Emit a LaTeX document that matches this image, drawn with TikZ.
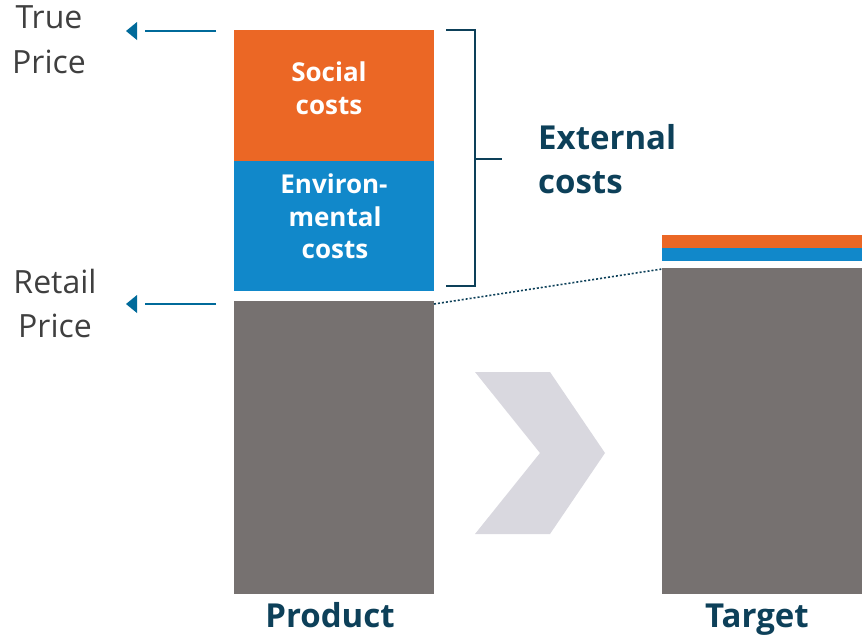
\documentclass[tikz,border=0pt]{standalone}
\usepackage{fontspec}
\setmainfont{Open Sans}
\definecolor{cOrange}{HTML}{EB6725}
\definecolor{cBlue}{HTML}{1188CA}
\definecolor{cGray}{HTML}{767170}
\definecolor{cChev}{HTML}{D9D8DF}
\definecolor{cTeal}{HTML}{0D4059}
\definecolor{cPtr}{HTML}{006A9A}
\definecolor{cLab}{HTML}{3F3F3F}
\begin{document}
\begin{tikzpicture}[x=1pt,y=-1pt,
  bar/.style={draw=none,inner sep=0pt,outer sep=0pt,anchor=north west,minimum width=200pt},
  intext/.style={anchor=base,text=white,font=\fontsize{26}{33}\selectfont\bfseries,inner sep=0pt},
  sidelab/.style={anchor=base,text=cLab,font=\fontsize{32}{44}\selectfont,inner sep=0pt},
  headlab/.style={text=cTeal,font=\fontsize{33}{44}\selectfont\bfseries,inner sep=0pt},
  footlab/.style={anchor=base,text=cTeal,font=\fontsize{33}{40}\selectfont\bfseries,inner sep=0pt},
  ptrline/.style={draw=cPtr,line width=1.5pt},
  ptrhead/.style={fill=cPtr,draw=none},
  brack/.style={draw=cTeal,line width=2pt},
  link/.style={draw=cTeal,line width=1.6pt,dash pattern=on 2pt off 2pt}]
\useasboundingbox (0,0) rectangle (863,635);
% product bar
\node[bar,fill=cOrange,minimum height=131pt] (soc) at (234,30) {};
\node[bar,fill=cBlue,minimum height=130pt] (env) at (234,161) {};
\node[bar,fill=cGray,minimum height=293pt] (prod) at (234,301) {};
% target bar
\node[bar,fill=cOrange,minimum height=13pt] (tsoc) at (662,235) {};
\node[bar,fill=cBlue,minimum height=13pt] (tenv) at (662,248) {};
\node[bar,fill=cGray,minimum height=326pt] (tgt) at (662,268) {};
% texts in bars
\node[intext] (s1) at (329,81) {Social};
\node[intext] (s2) at (329,114) {costs};
\node[intext] (e1) at (334,193) {Environ-};
\node[intext] (e2) at (335,226) {mental};
\node[intext] (e3) at (335,258) {costs};
% side labels
\node[sidelab] (tp1) at (49,28) {True};
\node[sidelab] (tp2) at (49,73) {Price};
\node[sidelab] (rp1) at (55,293) {Retail};
\node[sidelab] (rp2) at (55,337) {Price};
% pointers
\coordinate (tpa) at (216,31);
\coordinate (tpb) at (145,31);
\coordinate (tpt) at (126,31);
\draw[ptrline] (tpa) -- (tpb);
\fill[ptrhead] (tpt) -- ++(11,-9) -- ++(0,18) -- cycle;
\coordinate (rpa) at (216,304);
\coordinate (rpb) at (145,304);
\coordinate (rpt) at (126,304);
\draw[ptrline] (rpa) -- (rpb);
\fill[ptrhead] (rpt) -- ++(11,-9) -- ++(0,18) -- cycle;
% bracket
\coordinate (b1) at (446,30);
\coordinate (b2) at (475,30);
\coordinate (b3) at (475,286);
\coordinate (b4) at (446,286);
\coordinate (bm) at (475,159);
\coordinate (bt) at (502,159);
\draw[brack] (b1) -- (b2) -- (b3) -- (b4);
\draw[brack] (bm) -- (bt);
\node[headlab,anchor=base west] (x1) at (538,149) {External};
\node[headlab,anchor=base west] (x2) at (538,193) {costs};
% dotted link
\draw[link] ([yshift=-3pt]prod.north east) -- ([yshift=-1pt]tgt.north west);
% chevron
\fill[cChev] (475,372) -- (550,372) -- (605,453) -- (550,534) -- (475,534) -- (540,453) -- cycle;
% footers
\node[footlab] (pl) at (330,627) {Product};
\node[footlab] (tl) at (757,627) {Target};
\end{tikzpicture}
\end{document}
